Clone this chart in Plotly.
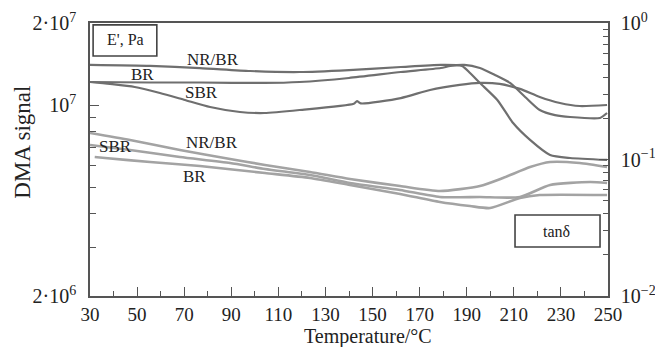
import plotly.graph_objects as go

# Storage modulus E' (Pa), left log axis
t_e_nrbr = [30, 55.5, 76.7, 98, 119, 140, 162, 179, 188, 191.4, 195.6, 203, 209.7, 216.9, 225.4, 233.9, 249.6]
e_nrbr = [1.404e7, 1.392e7, 1.368e7, 1.334e7, 1.323e7, 1.345e7, 1.380e7, 1.404e7, 1.392e7, 1.312e7,
          1.206e7, 1.045e7, 0.860e7, 0.746e7, 0.657e7, 0.6405e7, 0.630e7]

t_e_br = [30, 55.5, 76.7, 104, 119, 140, 162, 179, 183, 189, 195.6, 202, 208.4, 214.8, 221, 227.5, 233.9, 246.6, 249.6]
e_br = [1.216e7, 1.211e7, 1.211e7, 1.206e7, 1.216e7, 1.258e7, 1.323e7, 1.368e7, 1.392e7, 1.404e7,
        1.368e7, 1.290e7, 1.206e7, 1.072e7, 0.960e7, 0.920e7, 0.905e7, 0.898e7, 0.936e7]

t_e_sbr = [30, 38.5, 49, 59.7, 70.3, 81, 93.7, 104, 119, 142, 143.4, 145, 162, 174.4, 187, 195.6, 204,
           212.6, 221, 229.6, 238, 249.6]
e_sbr = [1.216e7, 1.196e7, 1.166e7, 1.108e7, 1.045e7, 0.985e7, 0.944e7, 0.936e7, 0.960e7, 1.012e7,
         1.035e7, 1.015e7, 1.062e7, 1.137e7, 1.186e7, 1.206e7, 1.196e7, 1.147e7, 1.072e7, 1.019e7,
         0.993e7, 1.0015e7]

# Loss factor tan delta, right log axis
t_d_nrbr = [30, 47, 68.2, 89.5, 104.3, 123.4, 140.4, 161.7, 178.6, 195.6, 205.4, 216.9, 225.4, 238, 249.6]
d_nrbr = [0.1563, 0.1390, 0.1174, 0.1009, 0.0912, 0.0810, 0.0720, 0.0639, 0.0588, 0.0639, 0.0732,
          0.0881, 0.0959, 0.0943, 0.0881]

t_d_sbr = [30, 47, 68.2, 89.5, 104.3, 123.4, 140.4, 161.7, 178.6, 195.6, 212.6, 225.4, 242.4, 249.6]
d_sbr = [0.1277, 0.1174, 0.1043, 0.0943, 0.0852, 0.0770, 0.0673, 0.0598, 0.0531, 0.0531, 0.0531,
         0.0650, 0.0684, 0.0673]

t_d_br = [32, 36.4, 55.5, 76.7, 104.3, 123.4, 140.4, 161.7, 178.6, 191.4, 199.9, 212.6, 221, 249.6]
d_br = [0.1043, 0.1026, 0.0959, 0.0896, 0.0796, 0.0732, 0.0650, 0.0559, 0.0488, 0.0456, 0.0441,
        0.0522, 0.0549, 0.0549]

x_ticks = list(range(30, 251, 20))
x_minor = list(range(40, 250, 20))
e_ticks = [2e6, 1e7, 2e7]
e_ticktext = ["2·10<sup>6</sup>", "10<sup>7</sup>", "2·10<sup>7</sup>"]
e_minor = [3e6, 4e6, 5e6, 6e6, 7e6, 8e6, 9e6]
d_ticks = [0.01, 0.1, 1.0]
d_ticktext = ["10<sup>−2</sup>", "10<sup>−1</sup>", "10<sup>0</sup>"]
d_minor = [k * 0.01 for k in range(2, 10)] + [k * 0.1 for k in range(2, 10)]

FONT = "Liberation Serif, DejaVu Serif, serif"
E_COLOR = "#6f6f6f"
D_COLOR = "#a3a3a3"
AX_COLOR = "#555555"

fig = go.Figure()
for t, v in [(t_e_nrbr, e_nrbr), (t_e_br, e_br), (t_e_sbr, e_sbr)]:
    fig.add_trace(go.Scatter(x=t, y=v, mode="lines", yaxis="y",
                             line=dict(color=E_COLOR, width=2.2, shape="spline", smoothing=0.6),
                             showlegend=False))
for t, v in [(t_d_nrbr, d_nrbr), (t_d_sbr, d_sbr), (t_d_br, d_br)]:
    fig.add_trace(go.Scatter(x=t, y=v, mode="lines", yaxis="y2",
                             line=dict(color=D_COLOR, width=2.6, shape="spline", smoothing=0.6),
                             showlegend=False))

fig.update_layout(
    width=655, height=347,
    margin=dict(l=90, r=47, t=23, b=51),
    paper_bgcolor="white", plot_bgcolor="white",
    font=dict(family=FONT, size=20, color="#222222"),
    xaxis=dict(range=[30, 250], tickmode="array", tickvals=x_ticks, automargin=False,
               tickfont=dict(size=19),
               ticks="inside", ticklen=9, tickwidth=1.3, tickcolor=AX_COLOR,
               showline=True, linecolor=AX_COLOR, linewidth=1.6, mirror=True,
               showgrid=False, zeroline=False, ticklabelstandoff=0,
               minor=dict(tickmode="array", tickvals=x_minor, ticks="inside",
                          ticklen=5, tickwidth=1.2, tickcolor=AX_COLOR, showgrid=False)),
    yaxis=dict(type="log", range=[6.30103, 7.30103], tickmode="array", automargin=False,
               tickvals=e_ticks, ticktext=e_ticktext,
               ticks="inside", ticklen=9, tickwidth=1.3, tickcolor=AX_COLOR,
               showline=True, linecolor=AX_COLOR, linewidth=1.6,
               showgrid=False, zeroline=False, ticklabelstandoff=8,
               minor=dict(tickmode="array", tickvals=e_minor, ticks="inside",
                          ticklen=6, tickwidth=1.2, tickcolor=AX_COLOR, showgrid=False)),
    yaxis2=dict(type="log", range=[-2, 0], overlaying="y", side="right", automargin=False,
                tickmode="array", tickvals=d_ticks, ticktext=d_ticktext,
                ticks="inside", ticklen=9, tickwidth=1.3, tickcolor=AX_COLOR,
                showline=True, linecolor=AX_COLOR, linewidth=1.6,
                showgrid=False, zeroline=False, ticklabelstandoff=7,
                minor=dict(tickmode="array", tickvals=d_minor, ticks="inside",
                           ticklen=5, tickwidth=1.2, tickcolor=AX_COLOR, showgrid=False)),
)

# Axis titles
fig.add_annotation(text="Temperature/°C", xref="paper", yref="paper", x=0.537, y=-0.148,
                   showarrow=False, font=dict(size=20), xanchor="center", yanchor="middle")
fig.add_annotation(text="DMA signal", xref="paper", yref="paper", x=-0.131, y=0.562,
                   showarrow=False, font=dict(size=23), textangle=-90,
                   xanchor="center", yanchor="middle")

# Boxed legends for the two signals
fig.add_shape(type="rect", xref="paper", yref="paper", x0=0.006, x1=0.129, y0=0.879, y1=0.993,
              line=dict(color="#444444", width=1.6), fillcolor="white")
fig.add_annotation(text="E', Pa", xref="paper", yref="paper", x=0.0676, y=0.938,
                   showarrow=False, font=dict(size=16), xanchor="center", yanchor="middle")
fig.add_shape(type="rect", xref="paper", yref="paper", x0=0.8205, x1=0.9846, y0=0.1795, y1=0.2967,
              line=dict(color="#444444", width=1.6), fillcolor="white")
fig.add_annotation(text="tanδ", xref="paper", yref="paper", x=0.9015, y=0.238,
                   showarrow=False, font=dict(size=16), xanchor="center", yanchor="middle")

# Curve labels
curve_labels = [
    ("NR/BR", 0.2375, 0.868), ("BR", 0.1004, 0.813), ("SBR", 0.2143, 0.7436),
    ("NR/BR", 0.2355, 0.564), ("SBR", 0.0483, 0.5458), ("BR", 0.2027, 0.4359),
]
for txt, px, py in curve_labels:
    fig.add_annotation(text=txt, xref="paper", yref="paper", x=px, y=py, showarrow=False,
                       font=dict(size=17), xanchor="center", yanchor="middle")

fig.write_html("out.html")
